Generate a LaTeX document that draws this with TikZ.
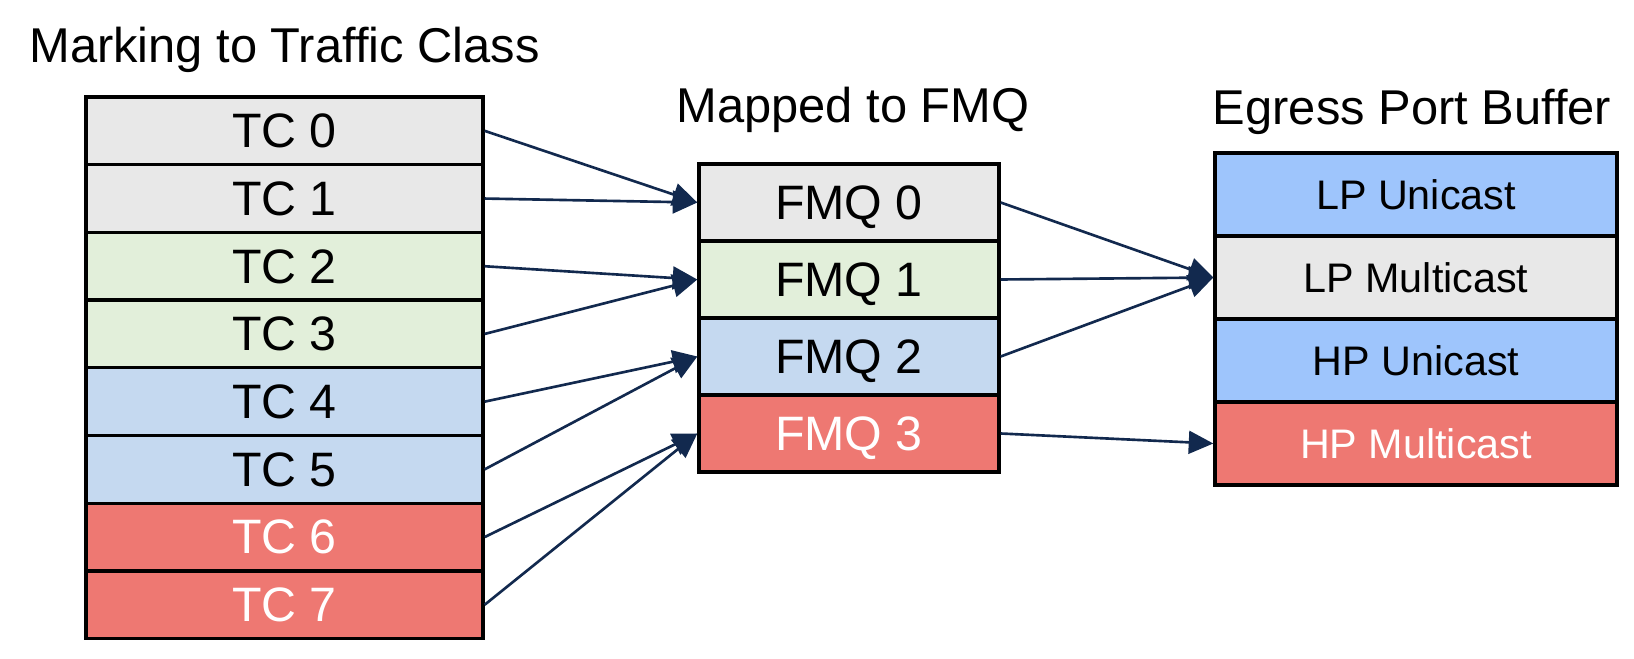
\documentclass[tikz,border=0pt]{standalone}
\usepackage{fontspec}
\setmainfont{Liberation Sans}
\usetikzlibrary{arrows.meta}

\definecolor{tcgray}{HTML}{E8E8E8}
\definecolor{tcgreen}{HTML}{E2EFDA}
\definecolor{tcblue}{HTML}{C5D9F0}
\definecolor{tcred}{HTML}{EE7872}
\definecolor{ucblue}{HTML}{9EC5FC}
\definecolor{flowblue}{HTML}{12294E}

\newcommand*{\tcX}{5.69}
\newcommand*{\tcY}{10.543}
\newcommand*{\tcH}{1.354}
\newcommand*{\fmqX}{16.98}
\newcommand*{\fmqY}{9.11}
\newcommand*{\fmqH}{1.54}
\newcommand*{\epX}{28.32}
\newcommand*{\epY}{9.27}
\newcommand*{\epH}{1.66}

\tikzset{
    cell/.style={draw=black, line width=1.9pt, inner sep=0pt, text depth=0pt,
        font=\fontsize{27.5}{33}\selectfont},
    heading/.style={anchor=base, inner sep=0pt, font=\fontsize{27.8}{33}\selectfont},
    flow/.style={flowblue, line width=1.5pt, -{Triangle[length=14pt,width=13pt]}},
}

\begin{document}
\begin{tikzpicture}
    \useasboundingbox (0,0) rectangle (32.68,13.16);

    \node[heading] (markTitle) at (\tcX,11.9) {Marking to Traffic Class};
    \node[heading] (fmqTitle) at (17.06,10.7) {Mapped to FMQ};
    \node[heading] (portTitle) at (28.24,10.66) {Egress Port Buffer};

    % traffic classes
    \foreach \i/\c/\t in {0/tcgray/black,1/tcgray/black,2/tcgreen/black,3/tcgreen/black,
                          4/tcblue/black,5/tcblue/black,6/tcred/white,7/tcred/white} {
        \node[cell, fill=\c, text=\t, minimum width=7.94cm, minimum height=\tcH cm]
            (tc\i) at (\tcX,\tcY-\i*\tcH) {TC \i};
    }

    % fabric queues
    \foreach \i/\c/\t in {0/tcgray/black,1/tcgreen/black,2/tcblue/black,3/tcred/white} {
        \node[cell, fill=\c, text=\t, minimum width=6cm, minimum height=\fmqH cm]
            (fmq\i) at (\fmqX,\fmqY-\i*\fmqH) {FMQ \i};
    }

    % egress port buffer
    \foreach \n/\c/\t/\l [count=\i from 0] in {lpu/ucblue/black/LP Unicast,lpm/tcgray/black/LP Multicast,
                                              hpu/ucblue/black/HP Unicast,hpm/tcred/white/HP Multicast} {
        \node[cell, fill=\c, text=\t, minimum width=8.04cm, minimum height=\epH cm,
              font=\fontsize{23.5}{28}\selectfont]
            (\n) at (\epX,\epY-\i*\epH) {\l};
    }

    \foreach \a/\b in {0/0,1/0,2/1,3/1,4/2,5/2,6/3,7/3} {
        \draw[flow] (tc\a.east) -- (fmq\b.west);
    }
    \foreach \a/\b in {0/lpm,1/lpm,2/lpm,3/hpm} {
        \draw[flow] (fmq\a.east) -- (\b.west);
    }

\end{tikzpicture}
\end{document}
